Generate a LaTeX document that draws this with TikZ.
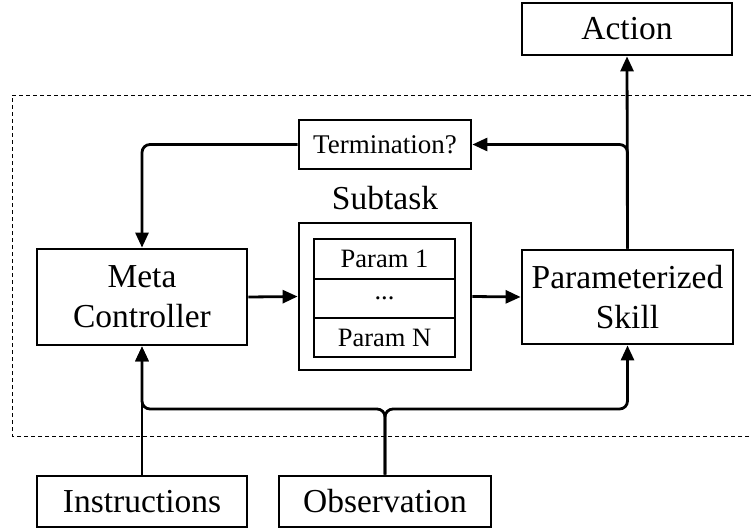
\documentclass[tikz,border=0pt]{standalone}
\usepackage{fontspec}
\setmainfont{Liberation Serif}
\usetikzlibrary{arrows.meta}

\tikzset{
  blk/.style={draw, line width=2.8pt, inner sep=0pt, align=center,
              font=\fontsize{33.5}{40}\selectfont},
  small/.style={blk, font=\fontsize{27}{30}\selectfont},
  row/.style={draw, line width=2.8pt, inner sep=0pt, minimum width=141pt,
              font=\fontsize{26.5}{28}\selectfont},
  arr/.style={line width=2.8pt, -{Triangle[length=15pt,width=13pt]}},
  link/.style={arr, rounded corners=8pt},
  frame/.style={draw, line width=1pt, dash pattern=on 4pt off 3pt}
}

\begin{document}
\begin{tikzpicture}[x=1pt, y=-1pt]
  \useasboundingbox (0,0) rectangle (751,529);

  % dashed boundary of the agent
  \draw[frame] (12,96) -- (770,96) (770,436) -- (12,436) -- (12,96);

  % main blocks
  \node[blk, minimum width=210pt, minimum height=52pt] (act) at (627,29) {Action};
  \node[small, minimum width=172pt, minimum height=49pt] (term) at (385,144.5) {Termination?};
  \node[blk, minimum width=210pt, minimum height=96pt] (meta) at (142,297) {Meta\\Controller};
  \node[blk, minimum width=211pt, minimum height=94pt] (skill) at (627.5,297) {Parameterized\\Skill};
  \node[blk, minimum width=210pt, minimum height=51pt] (instr) at (142,501.5) {Instructions};
  \node[blk, minimum width=212pt, minimum height=51pt] (obs) at (385,501.5) {Observation};

  % subtask with its parameter slots
  \node[draw, line width=2.8pt, minimum width=172pt, minimum height=147pt] (sub) at (385,296.5) {};
  \node[font=\fontsize{33.5}{40}\selectfont, anchor=base] (sublbl) at (385,210) {Subtask};
  \node[row, minimum height=40pt] (p1) at (384.5,259) {Param 1};
  \node[row, minimum height=39pt] (pd) at (384.5,298.5) {...};
  \node[row, minimum height=39pt] (pn) at (384.5,337.5) {Param N};

  % level of the observation split
  \coordinate (bus) at (0,409);

  % connectors
  \draw[arr] (skill.north) -- (act.south);
  \draw[link] (skill.north) |- (term.east);
  \draw[link] (term.west) -| (meta.north);
  \draw[arr] (meta.east) -- (sub.west);
  \draw[arr] (sub.east) -- (skill.west);
  \draw[arr] (instr.north) -- (meta.south);
  \draw[link] (obs.north) |- (meta.south |- bus) -- (meta.south);
  \draw[link] (obs.north) |- (skill.south |- bus) -- (skill.south);
\end{tikzpicture}
\end{document}
